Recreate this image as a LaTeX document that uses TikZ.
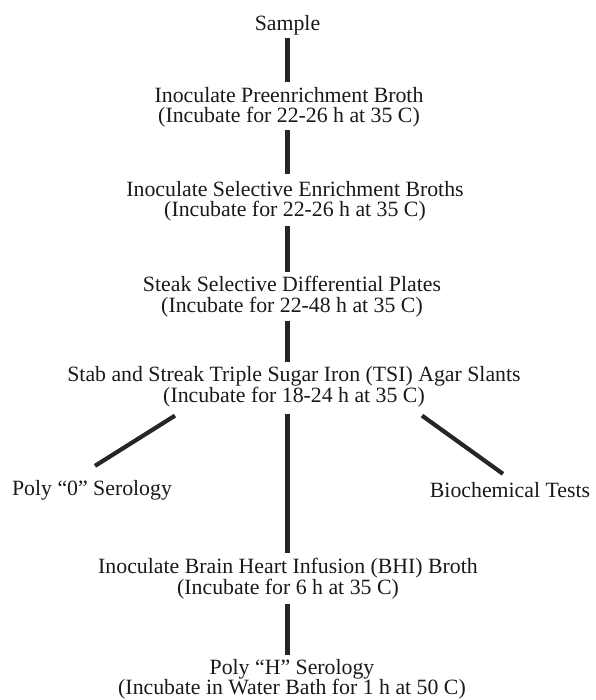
\documentclass[tikz,border=0pt]{standalone}
\usepackage{fontspec}
\setmainfont{Liberation Serif}
\begin{document}
\begin{tikzpicture}[x=1pt,y=-1pt,
  lbl/.style={inner sep=0pt, outer sep=0pt, align=center, anchor=base,
    font=\fontsize{21.8pt}{20.5pt}\selectfont, text=black!90},
  bar/.style={line width=4.6pt, draw=black!85},
  diag/.style={line width=4.2pt, draw=black!85}]
\useasboundingbox (0,0) rectangle (595,700);
% base anchor = baseline of the last line
\node[lbl] (sample) at (287.5,31) {Sample};
\node[lbl] (pre) at (289,123) {Inoculate Preenrichment Broth\\(Incubate for 22-26 h at 35 C)};
\node[lbl] (sel) at (295,217) {Inoculate Selective Enrichment Broths\\(Incubate for 22-26 h at 35 C)};
\node[lbl] (steak) at (292,312) {Steak Selective Differential Plates\\(Incubate for 22-48 h at 35 C)};
\node[lbl] (stab) at (294,402) {Stab and Streak Triple Sugar Iron (TSI) Agar Slants\\(Incubate for 18-24 h at 35 C)};
\node[lbl] (polyO) at (92,495) {Poly ``0'' Serology};
\node[lbl] (bio) at (510,497) {Biochemical Tests};
\node[lbl] (bhi) at (288,594) {Inoculate Brain Heart Infusion (BHI) Broth\\(Incubate for 6 h at 35 C)};
\node[lbl] (polyH) at (292,694.5) {Poly ``H'' Serology\\(Incubate in Water Bath for 1 h at 50 C)};

\draw[bar, shorten <=2pt, shorten >=5pt] (sample.south) -- (pre.north -| sample.south);
\draw[bar, shorten <=2pt, shorten >=7pt] (pre.south -| sample.south) -- (sel.north -| sample.south);
\draw[bar, shorten <=4pt, shorten >=4pt] (sel.south -| sample.south) -- (steak.north -| sample.south);
\draw[bar, shorten <=4pt, shorten >=4pt] (steak.south -| sample.south) -- (stab.north -| sample.south);
\draw[bar, shorten <=7pt, shorten >=5pt] (stab.south -| sample.south) -- (bhi.north -| sample.south);
\draw[bar, shorten <=5pt, shorten >=4pt] (bhi.south -| sample.south) -- (polyH.north -| sample.south);
\draw[diag] ([shift={(-119pt,-9pt)}]stab.south) -- ([shift={(3pt,14pt)}]polyO.north);
\draw[diag] ([shift={(128pt,-9pt)}]stab.south) -- ([shift={(-7pt,8pt)}]bio.north);
\end{tikzpicture}
\end{document}
